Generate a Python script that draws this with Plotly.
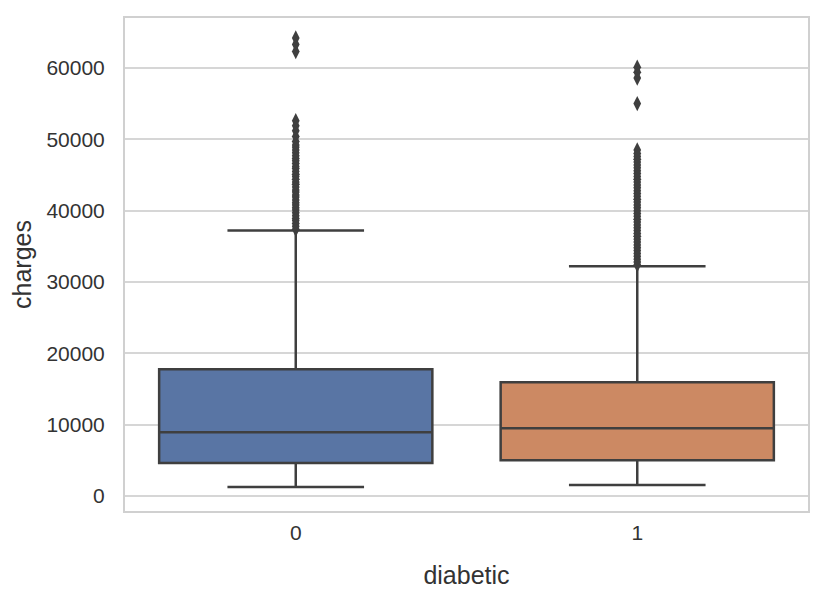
import plotly.graph_objects as go

categories = ["0", "1"]
q1 = [4620, 5030]
median = [8950, 9510]
q3 = [17780, 15950]
lower_whisker = [1260, 1540]
upper_whisker = [37200, 32200]
fill_colors = ["#5975a4", "#cc8963"]

outliers_0 = [37400, 37800, 38200, 38600, 38900, 39300, 39700, 40100, 40400, 40800,
              41100, 41500, 41900, 42200, 42600, 42900, 43300, 43700, 44000, 44400,
              44800, 45100, 45500, 45900, 46200, 46600, 47000, 47300, 47700, 48100,
              48500, 48900, 49200, 49700, 50400, 51200, 51900, 52600,
              62300, 63300, 64200]
outliers_1 = [32400, 32800, 33200, 33600, 34000, 34400, 34800, 35200, 35600, 36000,
              36400, 36800, 37200, 37600, 38000, 38400, 38800, 39200, 39600, 40000,
              40400, 40800, 41200, 41600, 42000, 42400, 42800, 43200, 43600, 44000,
              44400, 44800, 45200, 45600, 46000, 46400, 46800, 47200, 47600, 48000,
              48500, 55000, 58600, 59400, 60100]

edge = "#3f3f3f"
fig = go.Figure()
for i, cat in enumerate(categories):
    fig.add_trace(go.Box(
        x=[i], q1=[q1[i]], median=[median[i]], q3=[q3[i]],
        lowerfence=[lower_whisker[i]], upperfence=[upper_whisker[i]],
        width=0.8, whiskerwidth=0.5, boxpoints=False,
        fillcolor=fill_colors[i], line=dict(color=edge, width=2.5),
        showlegend=False, hoverinfo="skip"))

for i, outs in enumerate([outliers_0, outliers_1]):
    fig.add_trace(go.Scatter(
        x=[i] * len(outs), y=outs, mode="markers",
        marker=dict(symbol="diamond-tall", size=11, color=edge, line=dict(width=0)),
        showlegend=False, hoverinfo="skip"))

font = dict(family="Liberation Sans, Arial, sans-serif", size=21, color="#333333")
fig.update_layout(
    width=810, height=590,
    margin=dict(l=117, r=8, t=9, b=87),
    paper_bgcolor="white", plot_bgcolor="white",
    font=font,
    xaxis=dict(range=[-0.5, 1.5], tickvals=[0, 1], ticktext=categories,
               showgrid=False, zeroline=False,
               showline=True, mirror=True, linecolor="#d0d0d0", linewidth=2,
               ticks="outside", ticklen=2, tickcolor="rgba(0,0,0,0)",
               title=dict(text="diabetic", standoff=23)),
    yaxis=dict(range=[-2100, 67000], tickvals=[0, 10000, 20000, 30000, 40000, 50000, 60000],
               ticktext=["0", "10000", "20000", "30000", "40000", "50000", "60000"],
               showgrid=True, gridcolor="#d6d6d6", gridwidth=1.6, zeroline=False,
               showline=True, mirror=True, linecolor="#d0d0d0", linewidth=2,
               ticks="outside", ticklen=14, tickcolor="rgba(0,0,0,0)",
               title=dict(text="charges", standoff=11)),
)
fig.write_html("out.html")
